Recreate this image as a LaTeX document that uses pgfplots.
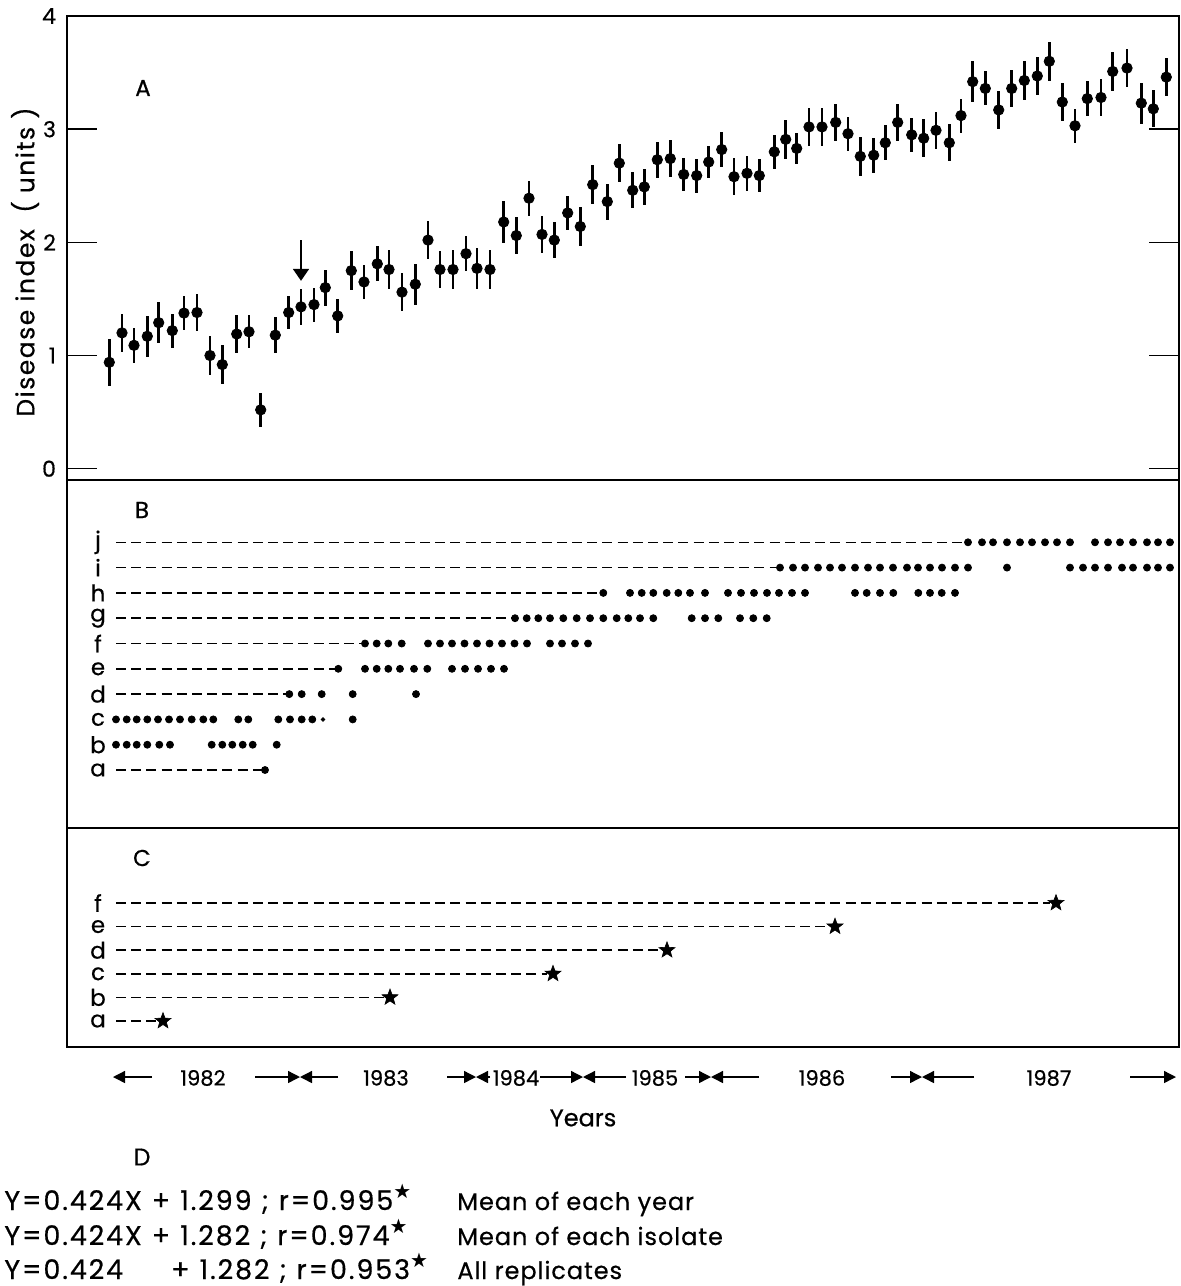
\documentclass[border=0pt]{standalone}
\usepackage{fontspec}
\setmainfont{Poppins}[FakeBold=0.5]
\newfontfamily\dejavu{DejaVu Sans}
\usepackage{pgfplots}
\usepackage{pgfplotstable}
\pgfplotsset{compat=1.18}
\usetikzlibrary{arrows.meta}

\pgfdeclareplotmark{fstar}{%
  \pgfpathmoveto{\pgfpointpolar{90}{\pgfplotmarksize}}%
  \pgfpathlineto{\pgfpointpolar{126}{0.42\pgfplotmarksize}}%
  \pgfpathlineto{\pgfpointpolar{162}{\pgfplotmarksize}}%
  \pgfpathlineto{\pgfpointpolar{198}{0.42\pgfplotmarksize}}%
  \pgfpathlineto{\pgfpointpolar{234}{\pgfplotmarksize}}%
  \pgfpathlineto{\pgfpointpolar{270}{0.42\pgfplotmarksize}}%
  \pgfpathlineto{\pgfpointpolar{306}{\pgfplotmarksize}}%
  \pgfpathlineto{\pgfpointpolar{342}{0.42\pgfplotmarksize}}%
  \pgfpathlineto{\pgfpointpolar{18}{\pgfplotmarksize}}%
  \pgfpathlineto{\pgfpointpolar{54}{0.42\pgfplotmarksize}}%
  \pgfpathclose
  \pgfusepathqfillstroke
}

% Panel A: position along the time axis (same units in all panels), disease index, half error bar
\pgfplotstableread{
x y e
109.3 0.94 0.21
122.0 1.20 0.17
134.0 1.09 0.155
147.3 1.17 0.18
158.7 1.29 0.18
172.3 1.22 0.15
184.0 1.375 0.15
197.0 1.38 0.165
210.0 1.00 0.17
222.3 0.92 0.17
236.7 1.19 0.17
249.0 1.21 0.145
260.7 0.52 0.15
275.3 1.18 0.16
288.7 1.38 0.145
301.0 1.43 0.16
314.0 1.45 0.15
325.3 1.60 0.16
337.7 1.35 0.15
351.3 1.75 0.17
364.0 1.65 0.15
377.3 1.81 0.155
389.0 1.76 0.175
402.0 1.56 0.17
415.3 1.63 0.18
428.0 2.02 0.17
440.0 1.76 0.16
453.0 1.76 0.175
466.0 1.90 0.155
477.0 1.77 0.18
490.0 1.76 0.17
503.7 2.18 0.185
516.3 2.06 0.16
529.0 2.39 0.155
542.0 2.07 0.165
554.3 2.02 0.16
567.7 2.26 0.15
580.3 2.14 0.175
592.7 2.51 0.17
607.3 2.36 0.16
619.3 2.70 0.165
632.7 2.46 0.16
644.3 2.49 0.16
657.3 2.73 0.16
670.3 2.74 0.165
683.7 2.60 0.145
696.7 2.59 0.15
708.7 2.71 0.145
721.7 2.82 0.155
734.0 2.58 0.165
747.0 2.61 0.155
759.3 2.59 0.145
774.3 2.80 0.15
785.7 2.91 0.17
796.7 2.83 0.135
809.0 3.02 0.17
822.0 3.02 0.17
835.7 3.06 0.16
848.0 2.96 0.15
860.3 2.76 0.175
873.7 2.77 0.155
885.3 2.88 0.155
897.7 3.06 0.165
911.7 2.95 0.15
923.7 2.92 0.17
936.0 2.99 0.165
949.3 2.88 0.165
961.0 3.12 0.15
972.7 3.42 0.18
985.3 3.36 0.15
998.7 3.17 0.17
1011.7 3.36 0.16
1024.3 3.43 0.175
1037.3 3.47 0.165
1049.3 3.60 0.17
1062.3 3.24 0.17
1075.0 3.03 0.15
1087.3 3.27 0.155
1101.0 3.28 0.16
1112.7 3.51 0.175
1127.0 3.54 0.165
1141.3 3.23 0.18
1153.3 3.18 0.165
1166.3 3.46 0.165
}\dataA

\pgfplotsset{
  every axis/.append style={
    scale only axis, anchor=south west, width=556pt,
    xmin=67, xmax=1179, xtick=\empty, clip=false,
    axis line style={line width=1.3pt},
  },
  dsh/.style={black, line width=0.8pt, dash pattern=on 5pt off 2.6pt},
  dts/.style={only marks, mark=*, mark size=1.75pt, black},
  stars/.style={only marks, mark=fstar, mark size=4.2pt, black, line width=0.3pt},
}
\tikzset{rowlab/.style={font=\fontsize{11.5}{12}\selectfont, anchor=center}}

\newcommand{\st}{\raisebox{0.8ex}{\dejavu\fontsize{10}{10}\selectfont ★}}
\newcommand{\eqf}{\fontsize{13.5}{15}\selectfont\addfontfeature{LetterSpace=7}}
\newcommand{\dsf}{\fontsize{12}{14}\selectfont\addfontfeature{LetterSpace=4}}
\newcommand{\gp}{\hspace{5pt}}

\begin{document}
\begin{tikzpicture}
\useasboundingbox (0,0) rectangle (590.5pt,-643pt);

% ---------------- Panel A ----------------
\begin{axis}[at={(33.5pt,-240pt)}, height=232pt,
  ymin=-0.1, ymax=4, ytick={0,1,2,3,4},
  tick align=inside, major tick length=15pt,
  major tick style={line width=0.8pt, black},
  yticklabel style={font=\fontsize{11}{12}\selectfont, xshift=-2pt},
  /pgf/number format/assume math mode=true]
\addplot[only marks, mark=*, mark size=2.6pt, black,
  error bars/.cd, y dir=both, y explicit, error mark=none,
  error bar style={line width=1.4pt, black}]
  table[x=x, y=y, y error=e] {\dataA};
\draw[line width=0.9pt, -{Triangle[length=6pt,width=8pt]}]
  (axis cs:301,2.02) -- (axis cs:301,1.66);
\end{axis}

% ---------------- Panel B ----------------
\begin{axis}[at={(33.5pt,-414pt)}, height=174pt,
  ymin=-1.292, ymax=12.462, ytick=\empty]
% a
\addplot[dsh] coordinates {(116,1) (264,1)};
\addplot[dts] coordinates {(265,1)};
% b
\addplot[dts] coordinates {(116,2) (126.7,2) (136.7,2) (147.3,2) (159.3,2) (170,2)
  (211.7,2) (222.3,2) (232.3,2) (242.7,2) (252.7,2) (276.7,2)};
% c
\addplot[dts] coordinates {(116,3) (126.7,3) (136.7,3) (147.3,3) (158,3) (169,3) (180,3) (191.7,3) (203.3,3) (213.3,3)
  (238.3,3) (248.3,3) (278.3,3) (290,3) (301.7,3) (312.3,3) (352.7,3)};
\addplot[only marks, mark=*, mark size=0.9pt, black] coordinates {(323,3)};
% d
\addplot[dsh] coordinates {(116,4) (288,4)};
\addplot[dts] coordinates {(289.3,4) (301.7,4) (321.7,4) (352.7,4) (416,4)};
% e
\addplot[dsh] coordinates {(116,5) (337,5)};
\addplot[dts] coordinates {(338.3,5) (365,5) (376.7,5) (388.3,5) (400,5) (414,5) (427.3,5)
  (452,5) (465,5) (478,5) (491,5) (504,5)};
% f
\addplot[dsh] coordinates {(116,6) (364,6)};
\addplot[dts] coordinates {(365,6) (376.7,6) (388.3,6) (401.7,6)
  (428,6) (440,6) (452,6) (464.5,6) (477,6) (489.5,6) (502,6) (514.5,6) (527,6)
  (550,6) (562,6) (575,6) (588,6)};
% g
\addplot[dsh] coordinates {(116,7) (514,7)};
\addplot[dts] coordinates {(515,7) (526.7,7) (538.3,7) (550,7) (563.3,7) (576.7,7) (590,7) (603.3,7) (616.7,7) (628.3,7) (640,7) (653.3,7)
  (691.7,7) (705,7) (718.3,7) (740,7) (753.3,7) (766.7,7)};
% h
\addplot[dsh] coordinates {(116,8) (602,8)};
\addplot[dts] coordinates {(603.3,8) (630,8) (641.7,8) (653.3,8) (666.7,8) (678.3,8) (690,8) (705,8)
  (728,8) (741,8) (754,8) (767,8) (779,8) (792,8) (805,8)
  (855,8) (866.7,8) (880,8) (893.3,8) (918.3,8) (930,8) (941.7,8) (955,8)};
% i
\addplot[dsh] coordinates {(116,9) (779,9)};
\addplot[dts] coordinates {(780,9) (793,9) (805,9) (818,9) (830,9) (842,9) (855,9) (868,9) (880,9) (893,9) (907,9) (918,9) (930,9) (942,9) (955,9) (968,9)
  (1007,9) (1070,9) (1083,9) (1095,9) (1108,9) (1122,9) (1133,9) (1147,9) (1158,9) (1170,9)};
% j
\addplot[dsh] coordinates {(116,10) (967,10)};
\addplot[dts] coordinates {(968,10) (982,10) (993,10) (1007,10) (1020,10) (1032,10) (1045,10) (1057,10) (1070,10)
  (1095,10) (1108,10) (1120,10) (1133,10) (1147,10) (1158,10) (1170,10)};
\node[rowlab] at (axis cs:98,1) {a};
\node[rowlab] at (axis cs:98,2) {b};
\node[rowlab] at (axis cs:98,3) {c};
\node[rowlab] at (axis cs:98,4) {d};
\node[rowlab] at (axis cs:98,5) {e};
\node[rowlab] at (axis cs:98,6) {f};
\node[rowlab] at (axis cs:98,7) {g};
\node[rowlab] at (axis cs:98,8) {h};
\node[rowlab] at (axis cs:98,9) {i};
\node[rowlab] at (axis cs:98,10) {j};
\end{axis}

% ---------------- Panel C ----------------
\begin{axis}[at={(33.5pt,-523.5pt)}, height=109.5pt,
  ymin=-0.102, ymax=9.178, ytick=\empty]
\addplot[dsh] coordinates {(116,1) (157,1)};
\addplot[dsh] coordinates {(116,2) (384,2)};
\addplot[dsh] coordinates {(116,3) (547,3)};
\addplot[dsh] coordinates {(116,4) (661,4)};
\addplot[dsh] coordinates {(116,5) (829,5)};
\addplot[dsh] coordinates {(116,6) (1050,6)};
\addplot[stars] coordinates {(163,1) (390,2) (553,3) (667,4) (835,5) (1056,6)};
\node[rowlab] at (axis cs:98,1) {a};
\node[rowlab] at (axis cs:98,2) {b};
\node[rowlab] at (axis cs:98,3) {c};
\node[rowlab] at (axis cs:98,4) {d};
\node[rowlab] at (axis cs:98,5) {e};
\node[rowlab] at (axis cs:98,6) {f};
\end{axis}

% ---------------- annotations in pixel units ----------------
\begin{scope}[x=0.5pt, y=-0.5pt]
\node[rotate=90, font=\fontsize{12.5}{13}\selectfont\addfontfeature{LetterSpace=6}] at (25,262) {Disease index \ ( units )};
\node[font=\fontsize{11.5}{12}\selectfont] at (143,88) {A};
\node[font=\fontsize{11.5}{12}\selectfont] at (142,510) {B};
\node[font=\fontsize{11.5}{12}\selectfont] at (142,858) {C};
% years row
\begin{scope}[line width=0.7pt, >={Triangle[length=6pt,width=6pt]}]
\draw[->] (152,1077) -- (113,1077);
\draw[->] (255,1077) -- (300,1077);
\draw[->] (338,1077) -- (300,1077);
\draw[->] (447,1077) -- (476,1077);
\draw[->] (490,1077) -- (476,1077);
\draw[->] (540,1077) -- (583,1077);
\draw[->] (626,1077) -- (583,1077);
\draw[->] (685,1077) -- (711,1077);
\draw[->] (759,1077) -- (711,1077);
\draw[->] (891,1077) -- (922,1077);
\draw[->] (974,1077) -- (922,1077);
\draw[->] (1130,1077) -- (1176,1077);
\end{scope}
\begin{scope}[every node/.style={font=\fontsize{10.5}{12}\selectfont}]
\node at (203,1078) {1982};
\node at (386,1078) {1983};
\node at (516,1078) {1984};
\node at (655,1078) {1985};
\node at (822,1078) {1986};
\node at (1049,1078) {1987};
\end{scope}
\node[font=\fontsize{12}{13}\selectfont] at (583,1118) {Years};
\node[font=\fontsize{12}{13}\selectfont] at (142,1157) {D};
% D text
\node[anchor=base west, inner sep=0pt] at (4,1210) {\eqf Y=0.424X\gp+\gp1.299\gp;\gp r=0.995\st};
\node[anchor=base west, inner sep=0pt] at (4,1245) {\eqf Y=0.424X\gp+\gp1.282\gp;\gp r=0.974\st};
\node[anchor=base west, inner sep=0pt] at (4,1279) {\eqf Y=0.424\hspace{24pt}+\gp1.282\gp;\gp r=0.953\st};
\node[anchor=base west, inner sep=0pt] at (457,1210) {\dsf Mean of each year};
\node[anchor=base west, inner sep=0pt] at (457,1245) {\dsf Mean of each isolate};
\node[anchor=base west, inner sep=0pt] at (457,1279) {\dsf All replicates};
\end{scope}
\end{tikzpicture}
\end{document}
